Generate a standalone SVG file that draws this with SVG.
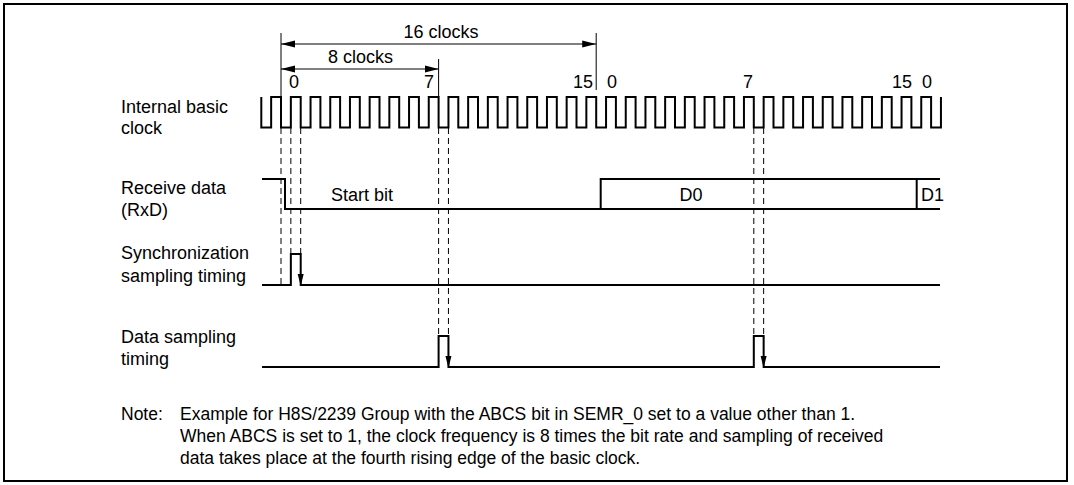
<svg xmlns="http://www.w3.org/2000/svg" width="1074" height="485" viewBox="0 0 1074 485">
<style>
text{font-family:"Liberation Sans",Arial,sans-serif;font-size:18px;fill:#000}
.n{font-size:17.5px}
.w{fill:none;stroke:#000;stroke-width:2}
.t{fill:none;stroke:#000;stroke-width:1}
.d{fill:none;stroke:#000;stroke-width:1;stroke-dasharray:6 4}
.m{text-anchor:middle}
</style>
<defs>
<marker id="ah" viewBox="0 0 14 8" refX="14" refY="4" markerWidth="14" markerHeight="8" markerUnits="userSpaceOnUse" orient="auto-start-reverse">
<path d="M0,0.5 L14,4 L0,7.5 Z" fill="#000"/>
</marker>
<path id="dn" d="M-3,-12 L3,-12 L0,0 Z" fill="#000"/>
</defs>
<rect x="4" y="4" width="1063" height="477" fill="#fff" stroke="#000" stroke-width="2"/>

<g id="labels">
<text x="121" y="112.7">Internal basic</text>
<text x="121" y="134">clock</text>
<text x="121" y="194">Receive data</text>
<text x="121" y="216">(RxD)</text>
<text x="121" y="259">Synchronization</text>
<text x="121" y="281.5">sampling timing</text>
<text x="121" y="343">Data sampling</text>
<text x="121" y="365">timing</text>
</g>

<g id="dimensions">
<path class="t" d="M281,33 V97 M596.2,33 V90 M438.6,59 V97"/>
<path class="t" d="M281,44 H596.2" marker-start="url(#ah)" marker-end="url(#ah)"/>
<path class="t" d="M281,69 H438.6" marker-start="url(#ah)" marker-end="url(#ah)"/>
<text class="m" x="441" y="38">16 clocks</text>
<text class="m" x="360.5" y="63">8 clocks</text>
<text x="289" y="88">0</text>
<text x="434" y="88" text-anchor="end">7</text>
<text x="593" y="88" text-anchor="end">15</text>
<text x="607" y="88">0</text>
<text x="753" y="88" text-anchor="end">7</text>
<text x="912" y="88" text-anchor="end">15</text>
<text x="922" y="88">0</text>
</g>

<g id="clock">
<path class="w" d="M261.3,97 v30.5h9.85v-30.5h9.85 v30.5h9.85v-30.5h9.85 v30.5h9.85v-30.5h9.85 v30.5h9.85v-30.5h9.85 v30.5h9.85v-30.5h9.85 v30.5h9.85v-30.5h9.85 v30.5h9.85v-30.5h9.85 v30.5h9.85v-30.5h9.85 v30.5h9.85v-30.5h9.85 v30.5h9.85v-30.5h9.85 v30.5h9.85v-30.5h9.85 v30.5h9.85v-30.5h9.85 v30.5h9.85v-30.5h9.85 v30.5h9.85v-30.5h9.85 v30.5h9.85v-30.5h9.85 v30.5h9.85v-30.5h9.85 v30.5h9.85v-30.5h9.85 v30.5h9.85v-30.5h9.85 v30.5h9.85v-30.5h9.85 v30.5h9.85v-30.5h9.85 v30.5h9.85v-30.5h9.85 v30.5h9.85v-30.5h9.85 v30.5h9.85v-30.5h9.85 v30.5h9.85v-30.5h9.85 v30.5h9.85v-30.5h9.85 v30.5h9.85v-30.5h9.85 v30.5h9.85v-30.5h9.85 v30.5h9.85v-30.5h9.85 v30.5h9.85v-30.5h9.85 v30.5h9.85v-30.5h9.85 v30.5h9.85v-30.5h9.85 v30.5h9.85v-30.5h9.85 v30.5h9.85v-30.5h9.85 v30.5h9.85v-30.5h9.85 v30.5h9.85v-30.5"/>
</g>

<g id="guides">
<path class="d" d="M281,128 V285 M290.85,128 V254 M300.7,128 V254"/>
<path class="d" d="M438.6,128 V336 M448.45,128 V336"/>
<path class="d" d="M753.8,128 V336 M763.65,128 V336"/>
</g>

<g id="rxd">
<path class="w" d="M262,179 H285 V209 H940 M600.7,209 V179 H940 M916.7,179 V209"/>
<text x="331" y="201">Start bit</text>
<text class="m" x="691" y="201">D0</text>
<text x="921" y="201">D1</text>
</g>

<g id="sync">
<path class="w" d="M262,285 H290.85 V254 H300.7 V285 H940"/>
<use href="#dn" x="300.7" y="286"/>
</g>

<g id="datasample">
<path class="w" d="M262,367 H438.6 V336 H448.45 V367 H753.8 V336 H763.65 V367 H940"/>
<use href="#dn" x="448.45" y="368"/>
<use href="#dn" x="763.65" y="368"/>
</g>

<g id="note">
<text class="n" x="121" y="420">Note:</text>
<text class="n" x="180" y="420">Example for H8S/2239 Group with the ABCS bit in SEMR_0 set to a value other than 1.</text>
<text class="n" x="180" y="442">When ABCS is set to 1, the clock frequency is 8 times the bit rate and sampling of received</text>
<text class="n" x="180" y="464">data takes place at the fourth rising edge of the basic clock.</text>
</g>
</svg>
